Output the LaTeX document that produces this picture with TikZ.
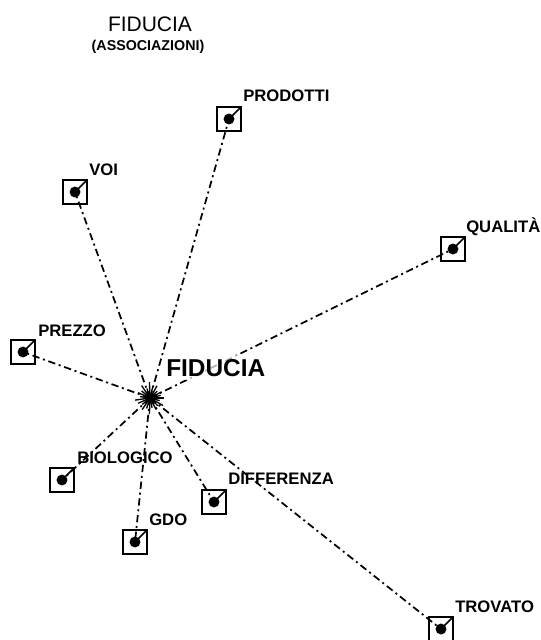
\documentclass[tikz,border=0pt]{standalone}
\usepackage{fontspec}
\setmainfont{Liberation Sans}

\tikzset{
    assoc/.style={line width=1.3, dash pattern=on 5.5pt off 2.8pt on 1.5pt off 2.8pt},
    word/.style={font=\fontsize{12.5}{14}\selectfont\bfseries, anchor=base west, inner sep=0}
}
\newcommand{\pinbox}[3]{
            \coordinate (#1) at (#2,#3);
            \draw[line width=1.1] (#2-12,#3-12) rectangle (#2+12,#3+12);
            \draw[line width=1.1] (#1) -- (#2+12,#3-12);
            \fill (#1) circle (4.1pt);
        }

\begin{document}
\begin{tikzpicture}[x=0.75pt, y=-0.75pt]
        \useasboundingbox (0,0) rectangle (540,640);
        \node[font=\fontsize{15.75}{18}\selectfont, anchor=base, inner sep=0] (title) at (150,31) {FIDUCIA};
        \node[font=\fontsize{10.7}{12}\selectfont\bfseries, anchor=base, inner sep=0] (subtitle) at (148,50) {(ASSOCIAZIONI)};

        \coordinate (hub) at (150,398);
        \pinbox{prodotti}{229}{119}
        \pinbox{voi}{75}{192}
        \pinbox{qualita}{453}{249}
        \pinbox{prezzo}{23}{352}
        \pinbox{biologico}{62}{480}
        \pinbox{differenza}{214}{502}
        \pinbox{gdo}{135}{542}
        \pinbox{trovato}{441}{629}

        \foreach \n in {prodotti,voi,qualita,prezzo,biologico,differenza,gdo,trovato}
            \draw[assoc] (hub) -- (\n);

        \foreach \a/\r in {0/14,15/10,30/15,45/11,62/13,78/10,92/16,108/11,124/14,140/10,156/13,172/15,188/10,204/13,220/11,236/15,252/10,268/16,284/12,300/14,316/10,332/13,346/11}
            \draw[line width=1] (hub) -- ++(\a:\r);
        \fill (hub) circle (3.5pt);

        \node[font=\fontsize{18.3}{21}\selectfont\bfseries, anchor=base west, inner xsep=0pt, inner ysep=3pt,
              fill=white, fill opacity=0.7, text opacity=1] (hublabel) at (166,376) {FIDUCIA};

        \node[word] (lprodotti) at (243,101) {PRODOTTI};
        \node[word] (lvoi) at (89,175) {VOI};
        \node[word] (lqualita) at (466,232) {QUALITÀ};
        \node[word] (lprezzo) at (38,336) {PREZZO};
        \node[word] (lbiologico) at (77,463) {BIOLOGICO};
        \node[word] (ldifferenza) at (228,484) {DIFFERENZA};
        \node[word] (lgdo) at (149,525) {GDO};
        \node[word] (ltrovato) at (455,612) {TROVATO};
\end{tikzpicture}
\end{document}
